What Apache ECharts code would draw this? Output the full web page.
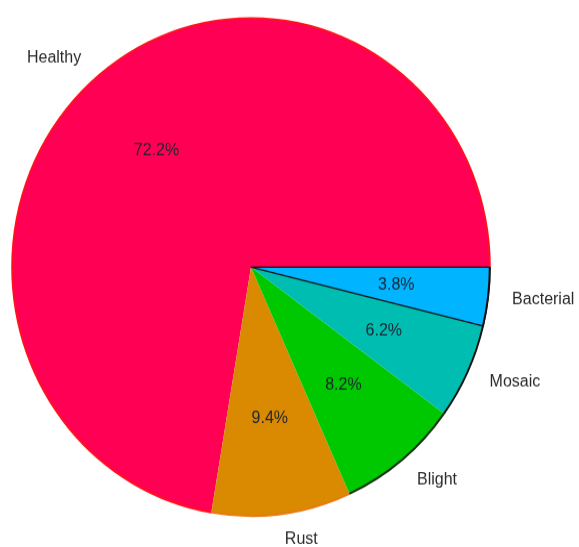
<!DOCTYPE html>
<html>
<head>
<meta charset="utf-8">
<script src="https://cdn.jsdelivr.net/npm/echarts@6/dist/echarts.min.js"></script>
<style>
  html, body { margin: 0; padding: 0; background: #ffffff; overflow: hidden; }
  /* the drawing is slightly taller than it is wide */
  #chart { width: 579px; height: 545px; transform: scaleY(1.0419); transform-origin: 0 0; }
</style>
</head>
<body>
<div id="chart"></div>
<script>
// Share of leaf samples per class (percent)
const categories = ['Healthy', 'Rust', 'Blight', 'Mosaic', 'Bacterial'];
const shares = [72.2, 9.4, 8.2, 6.2, 3.8];
const fillColors = ['#ff0055', '#d98a00', '#00c800', '#00bdb2', '#00b4ff'];
const rimColors = ['#ff1020', '#e87a10', '#103010', '#101010', '#101010'];

const R = 239;
const center = [251, 256.3];

const slices = categories.map((name, i) => ({
  name: name,
  value: shares[i],
  itemStyle: {
    color: fillColors[i],
    borderColor: name === 'Bacterial' ? '#111111' : fillColors[i],
    borderWidth: name === 'Bacterial' ? 1.3 : 0
  }
}));

const chart = echarts.init(document.getElementById('chart'), null, { renderer: 'canvas' });
chart.setOption({
  animation: false,
  backgroundColor: '#ffffff',
  series: [
    {
      // wedges with category names outside
      type: 'pie',
      center: center,
      radius: [0, R],
      startAngle: 0,
      clockwise: false,
      avoidLabelOverlap: false,
      silent: true,
      data: slices,
      label: {
        show: true,
        position: 'outside',
        formatter: '{b}',
        fontFamily: 'Liberation Sans, Arial, sans-serif',
        fontSize: 16,
        color: '#2a2a2a',
        distanceToLabelLine: 0
      },
      labelLine: { show: false, length: 24, length2: 0 }
    },
    {
      // thin coloured rim along the outer arc of each wedge
      type: 'pie',
      center: center,
      radius: [R - 1.2, R + 0.8],
      startAngle: 0,
      clockwise: false,
      silent: true,
      z: 3,
      label: { show: false },
      labelLine: { show: false },
      data: categories.map((name, i) => ({
        name: name,
        value: shares[i],
        itemStyle: { color: rimColors[i], borderWidth: 0 }
      }))
    },
    {
      // percentage labels at 0.6 of the radius
      type: 'pie',
      center: center,
      radius: [0, R * 1.2],
      startAngle: 0,
      clockwise: false,
      silent: true,
      z: 4,
      itemStyle: { color: 'transparent', borderWidth: 0 },
      data: categories.map((name, i) => ({ name: name, value: shares[i] })),
      label: {
        show: true,
        position: 'inside',
        formatter: (p) => p.value.toFixed(1) + '%',
        fontFamily: 'Liberation Sans, Arial, sans-serif',
        fontSize: 16,
        color: '#1e2430'
      },
      labelLine: { show: false }
    }
  ]
});
</script>
</body>
</html>
